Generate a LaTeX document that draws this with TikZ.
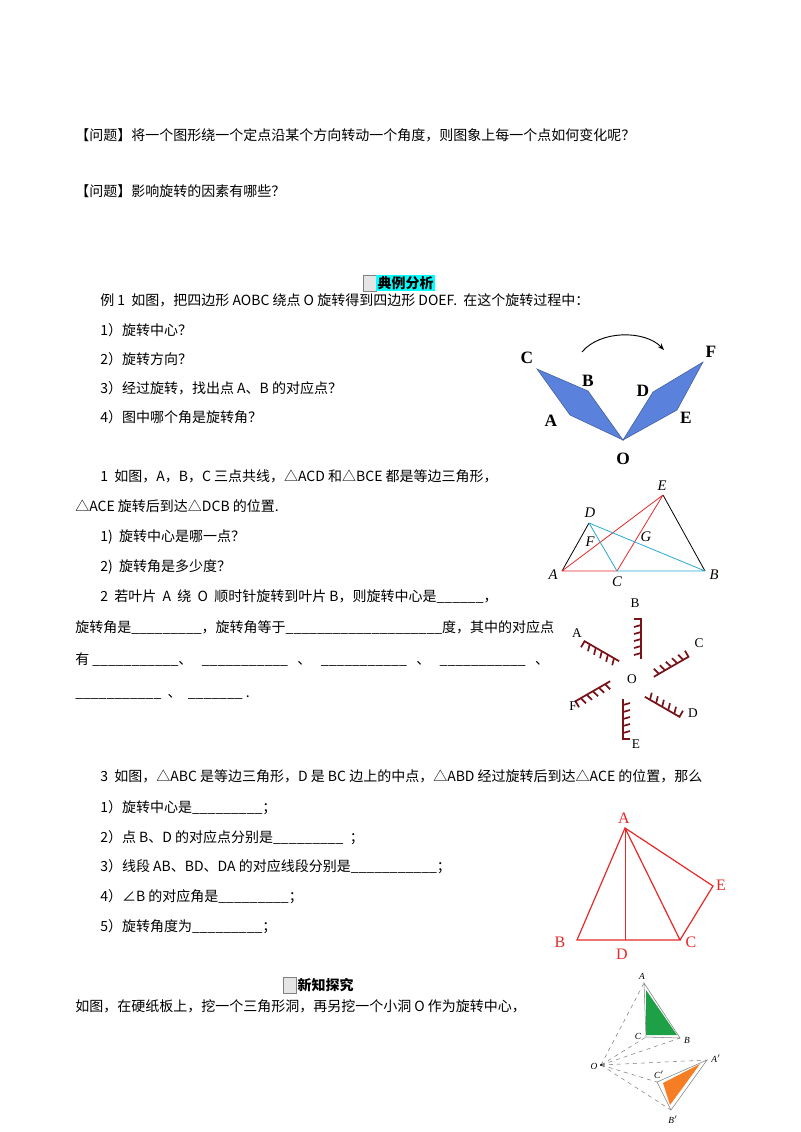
\documentclass[tikz,border=0pt]{standalone}
\usepackage{fontspec}
\setmainfont{Noto Sans CJK SC}
\newfontfamily\lserif{Liberation Serif}
\usetikzlibrary{arrows.meta}
\definecolor{leafc}{RGB}{120,20,25}
\definecolor{quadc}{RGB}{90,130,220}
\definecolor{redc}{RGB}{230,40,40}
\definecolor{bluec}{RGB}{40,170,210}
\definecolor{greenc}{RGB}{30,160,70}
\definecolor{orangec}{RGB}{245,125,35}
\definecolor{hcyan}{RGB}{0,255,255}
\begin{document}
\begin{tikzpicture}[x=0.75pt,y=-0.75pt,
  txt/.style={anchor=base west,font=\fontsize{10.5pt}{12pt}\selectfont,inner sep=0},
  lab/.style={font=\lserif\fontsize{10pt}{12pt}\selectfont,inner sep=1pt},
  biglab/.style={font=\lserif\bfseries\fontsize{13pt}{14pt}\selectfont,inner sep=1pt},
  hdr/.style={anchor=west,fill=hcyan,font=\bfseries\fontsize{10.5pt}{12pt}\selectfont,inner sep=1pt,minimum height=16pt*0.75},
  leafl/.style={leafc,line width=1.3pt}]
\useasboundingbox (0,0) rectangle (800,1132);
\fill[white] (0,0) rectangle (800,1132);
% texts
\node[txt] (t1) at (75,140) {【问题】将一个图形绕一个定点沿某个方向转动一个角度，则图象上每一个点如何变化呢？};
\node[txt] (t2) at (75,196) {【问题】影响旋转的因素有哪些？};
\draw[fill=gray!20,draw=gray] (363,275) rectangle (376,291);
\node[hdr] (h1) at (376,283) {典例分析};
\node[txt] (t3) at (100,305) {例 1 \ 如图，把四边形 AOBC 绕点 O 旋转得到四边形 DOEF. \ 在这个旋转过程中：};
\node[txt] (t4) at (100,335) {1）旋转中心？};
\node[txt] (t5) at (100,364) {2）旋转方向？};
\node[txt] (t6) at (100,393) {3）经过旋转，找出点 A、B 的对应点？};
\node[txt] (t7) at (100,422) {4）图中哪个角是旋转角？};
\node[txt] (t8) at (100,481) {1 \ 如图，A，B，C 三点共线，△ACD 和△BCE 都是等边三角形，};
\node[txt] (t9) at (75,511) {△ACE 旋转后到达△DCB 的位置.};
\node[txt] (t10) at (100,541) {1) \ 旋转中心是哪一点？};
\node[txt] (t11) at (100,571) {2) \ 旋转角是多少度？};
\node[txt] (t12) at (100,601) {2 \ 若叶片 \ A \ 绕 \ O \ 顺时针旋转到叶片 B，则旋转中心是\_\_\_\_\_\_，};
\node[txt] (t13) at (75,632) {旋转角是\_\_\_\_\_\_\_\_\_，旋转角等于\_\_\_\_\_\_\_\_\_\_\_\_\_\_\_\_\_\_\_\_度，其中的对应点};
\node[txt] (t14) at (75,664) {有 \_\_\_\_\_\_\_\_\_\_\_、 \ \ \_\_\_\_\_\_\_\_\_\_\_ \ \ 、 \ \ \_\_\_\_\_\_\_\_\_\_\_ \ \ 、 \ \ \_\_\_\_\_\_\_\_\_\_\_ \ \ 、};
\node[txt] (t15) at (75,697) {\_\_\_\_\_\_\_\_\_\_\_ \ 、 \ \_\_\_\_\_\_\_ .};
\node[txt] (t16) at (100,781) {3 \ 如图，△ABC 是等边三角形，D 是 BC 边上的中点，△ABD 经过旋转后到达△ACE 的位置，那么};
\node[txt] (t17) at (100,812) {1）旋转中心是\_\_\_\_\_\_\_\_\_；};
\node[txt] (t18) at (100,842) {2）点 B、D 的对应点分别是\_\_\_\_\_\_\_\_\_ \ ；};
\node[txt] (t19) at (100,871) {3）线段 AB、BD、DA 的对应线段分别是\_\_\_\_\_\_\_\_\_\_\_；};
\node[txt] (t20) at (100,901) {4）∠B 的对应角是\_\_\_\_\_\_\_\_\_；};
\node[txt] (t21) at (100,931) {5）旋转角度为\_\_\_\_\_\_\_\_\_；};
\draw[fill=gray!20,draw=gray] (283,977) rectangle (296,993);
\node[hdr,fill=none] (h2) at (296,985) {新知探究};
\node[txt] (t22) at (75,1011) {如图，在硬纸板上，挖一个三角形洞，再另挖一个小洞 O 作为旋转中心，};
% figure 1
\coordinate (qC) at (537,369); \coordinate (qB) at (588,391); \coordinate (qO) at (623,440);
\coordinate (qA) at (570,415); \coordinate (qD) at (653,392); \coordinate (qF) at (703,362); \coordinate (qE) at (677,410);
\draw[fill=quadc,draw=quadc!70!black,line width=0.4pt] (qO)--(qA)--(qC)--(qB)--cycle;
\draw[fill=quadc,draw=quadc!70!black,line width=0.4pt] (qO)--(qD)--(qF)--(qE)--cycle;
\node[biglab] (lC) at (527,358) {C}; \node[biglab] (lB) at (588,381) {B};
\node[biglab] (lA) at (551,421) {A}; \node[biglab] (lO) at (623,459) {O};
\node[biglab] (lD) at (643,391) {D}; \node[biglab] (lF) at (711,352) {F};
\node[biglab] (lE) at (686,418) {E};
\coordinate (arS) at (582,352); \coordinate (arE) at (664,350);
\draw[-{Stealth[length=5pt]},line width=0.7pt] (arS) .. controls (600,330) and (645,330) .. (arE);
% figure 2
\coordinate (tA) at (562,571); \coordinate (tC) at (617,571); \coordinate (tB) at (705,571);
\coordinate (tD) at (589,523); \coordinate (tE) at (663,495);
\draw[line width=0.6pt] (tA)--(tD) (tE)--(tB);
\draw[redc,line width=0.6pt] (tA)--(tC) (tA)--(tE) (tC)--(tE);
\draw[bluec,line width=0.6pt] (tD)--(tC) (tD)--(tB) (tC)--(tB);
\node[lab,font=\lserif\itshape\fontsize{11pt}{12pt}\selectfont] (ltA) at (553,575) {A};
\node[lab,font=\lserif\itshape\fontsize{11pt}{12pt}\selectfont] (ltC) at (617,582) {C};
\node[lab,font=\lserif\itshape\fontsize{11pt}{12pt}\selectfont] (ltB) at (714,575) {B};
\node[lab,font=\lserif\itshape\fontsize{11pt}{12pt}\selectfont] (ltD) at (590,513) {D};
\node[lab,font=\lserif\itshape\fontsize{11pt}{12pt}\selectfont] (ltE) at (662,486) {E};
\node[lab,font=\lserif\itshape\fontsize{11pt}{12pt}\selectfont] (ltF) at (590,542) {F};
\node[lab,font=\lserif\itshape\fontsize{11pt}{12pt}\selectfont] (ltG) at (646,537) {G};
% figure 3 leaves
\coordinate (lfO) at (632,679);
\foreach \ang in {30,90,150,210,270,330}{
  \begin{scope}[shift={(lfO)},rotate=-\ang]
    \draw[leafl] (20,9) -- (60,9) -- (60,2);
    \foreach \t in {26,33,40,47,54}{\draw[leafl] (\t,9) -- (\t-2,2);}
  \end{scope}}
\node[lab] (lfOl) at (lfO) {O};
\node[lab] (lfB) at (635,603) {B}; \node[lab] (lfA) at (577,633) {A};
\node[lab] (lfC) at (699,643) {C}; \node[lab] (lfD) at (693,713) {D};
\node[lab] (lfE) at (636,744) {E}; \node[lab] (lfF) at (573,706) {F};
% figure 4
\coordinate (rA) at (625,828); \coordinate (rB) at (577,940); \coordinate (rC) at (680,940);
\coordinate (rD) at (625,940); \coordinate (rE) at (713,886);
\draw[redc,line width=0.9pt] (rA)--(rB)--(rC)--cycle (rA)--(rE)--(rC);
\draw[redc,line width=0.4pt] (rA)--(rD);
\node[lab,redc,font=\lserif\fontsize{12pt}{13pt}\selectfont] (lrA) at (624,818) {A};
\node[lab,redc,font=\lserif\fontsize{12pt}{13pt}\selectfont] (lrB) at (560,942) {B};
\node[lab,redc,font=\lserif\fontsize{12pt}{13pt}\selectfont] (lrD) at (622,954) {D};
\node[lab,redc,font=\lserif\fontsize{12pt}{13pt}\selectfont] (lrC) at (691,942) {C};
\node[lab,redc,font=\lserif\fontsize{12pt}{13pt}\selectfont] (lrE) at (721,885) {E};
% figure 5
\coordinate (pA) at (644,983); \coordinate (pC) at (646,1037); \coordinate (pB) at (680,1038);
\coordinate (pO) at (601,1065); \coordinate (pA2) at (707,1060); \coordinate (pC2) at (657,1082); \coordinate (pB2) at (671,1110);
\fill[greenc] (646,990)--(646,1035)--(677,1035)--cycle;
\fill[orangec] (663,1083)--(670,1105)--(700,1064)--cycle;
\draw[gray,line width=0.4pt] (pA)--(pC)--(pB)--cycle (pA2)--(pC2)--(pB2)--cycle;
\draw[gray,dashed,line width=0.4pt] (pO)--(pA) (pO)--(pC) (pO)--(pB) (pO)--(pA2) (pO)--(pC2) (pO)--(pB2);
\fill (pO) circle (1.2);
\node[lab,font=\lserif\itshape\fontsize{7pt}{8pt}\selectfont] (lpA) at (642,976) {A};
\node[lab,font=\lserif\itshape\fontsize{7pt}{8pt}\selectfont] (lpC) at (638,1036) {C};
\node[lab,font=\lserif\itshape\fontsize{7pt}{8pt}\selectfont] (lpB) at (687,1040) {B};
\node[lab,font=\lserif\itshape\fontsize{7pt}{8pt}\selectfont] (lpO) at (594,1066) {O};
\node[lab,font=\lserif\itshape\fontsize{7pt}{8pt}\selectfont] (lpA2) at (716,1059) {A$'$};
\node[lab,font=\lserif\itshape\fontsize{7pt}{8pt}\selectfont] (lpC2) at (659,1075) {C$'$};
\node[lab,font=\lserif\itshape\fontsize{7pt}{8pt}\selectfont] (lpB2) at (673,1120) {B$'$};
\end{tikzpicture}
\end{document}
